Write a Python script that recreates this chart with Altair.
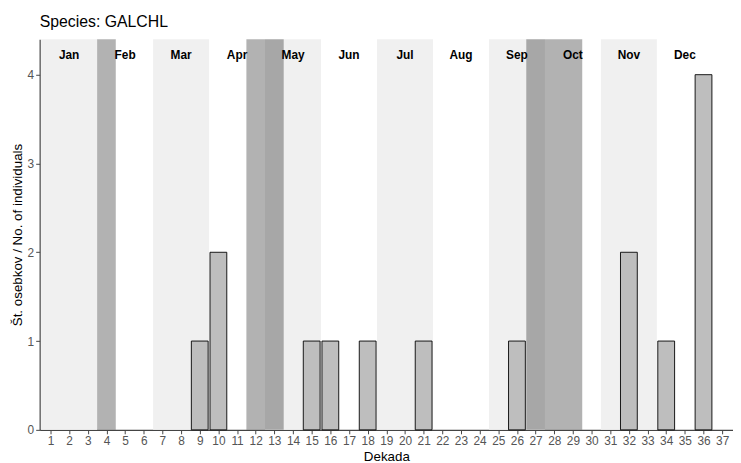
import altair as alt
import pandas as pd

# Data
decades = [9, 10, 15, 16, 18, 21, 26, 32, 34, 36]
counts = [1, 2, 1, 1, 1, 1, 1, 2, 1, 4]

months = ["Jan", "Feb", "Mar", "Apr", "May", "Jun",
          "Jul", "Aug", "Sep", "Oct", "Nov", "Dec"]
month_mid_decade = [2, 5, 8, 11, 14, 17, 20, 23, 26, 29, 32, 35]

light_start = [0.5, 6.5, 12.5, 18.5, 24.5, 30.5]
light_end = [3.5, 9.5, 15.5, 21.5, 27.5, 33.5]

dark_start = [3.5, 11.5, 26.5]
dark_end = [4.5, 13.5, 29.5]

tick_values = list(range(1, 38))

bars_df = pd.DataFrame({"decade": decades, "count": counts})
months_df = pd.DataFrame({"month": months, "decade": month_mid_decade})
light_df = pd.DataFrame({"start": light_start, "end": light_end})
dark_df = pd.DataFrame({"start": dark_start, "end": dark_end})

FONT = "Liberation Sans"

xscale = alt.Scale(domain=[0.42, 37.58], nice=False, zero=False)
yscale = alt.Scale(domain=[0, 4.4], nice=False)
xaxis = alt.Axis(values=tick_values, format="d", grid=False,
                 labelOverlap=False, labelFlush=False,
                 title="Dekada", titlePadding=3)

light = alt.Chart(light_df).mark_rect(color="#f0f0f0").encode(
    x=alt.X("start:Q", scale=xscale, axis=xaxis),
    x2="end:Q",
)

dark = alt.Chart(dark_df).mark_rect(color="#000000", opacity=0.3).encode(
    x=alt.X("start:Q", scale=xscale, axis=xaxis),
    x2="end:Q",
)

bars = alt.Chart(bars_df).transform_calculate(
    x0="datum.decade - 0.45", x1="datum.decade + 0.45"
).mark_rect(fill="#bebebe", stroke="#000000", strokeWidth=0.9).encode(
    x=alt.X("x0:Q", scale=xscale, axis=xaxis),
    x2="x1:Q",
    y=alt.Y("count:Q", scale=yscale,
            axis=alt.Axis(values=[0, 1, 2, 3, 4], grid=False,
                          labelOverlap=False,
                          title="Št. osebkov / No. of individuals",
                          titlePadding=3)),
    y2=alt.datum(0),
)

labels = alt.Chart(months_df).mark_text(
    font=FONT, fontSize=12, fontWeight="bold", color="#000000",
    baseline="middle", align="center"
).encode(
    x=alt.X("decade:Q", scale=xscale, axis=xaxis),
    y=alt.value(16),
    text="month:N",
)

chart = alt.layer(light, dark, bars, labels).properties(
    width=701,
    height=395,
    autosize=alt.AutoSizeParams(type="none"),
    padding={"left": 32, "top": 29, "right": 0, "bottom": 31},
    title=alt.TitleParams(
        "Species: GALCHL", anchor="start", frame="group", font=FONT,
        fontSize=16, fontWeight="normal", color="#000000",
        baseline="alphabetic", offset=12, dy=16
    ),
).configure_view(stroke=None).configure_axis(
    domainColor="#444444",
    domainWidth=1.2,
    tickColor="#444444",
    tickSize=4,
    labelColor="#555555",
    labelFont=FONT,
    labelFontSize=12,
    labelPadding=2,
    labelOverlap=False,
    titleFont=FONT,
    titleFontSize=13.5,
    titleFontWeight="normal",
    titleColor="#000000",
)

chart.save("out.html", embed_options={"renderer": "svg", "actions": False})
